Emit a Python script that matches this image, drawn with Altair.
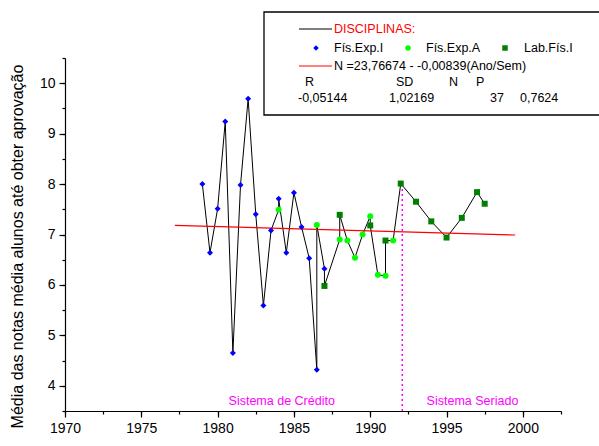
import altair as alt
import numpy as np
import pandas as pd

FONT = "Liberation Sans"

# ---- data ----
fis_exp_i_years = [1979, 1979.5, 1980, 1980.5, 1981, 1981.5, 1982, 1982.5, 1983, 1983.5,
                   1984, 1984.5, 1985, 1985.5, 1986, 1986.5, 1987]
fis_exp_i_values = [8.00, 6.64, 7.51, 9.24, 4.65, 7.98, 9.69, 7.40, 5.59, 7.08,
                    7.71, 6.64, 7.83, 7.15, 6.53, 4.32, 6.32]

fis_exp_a_years = [1984, 1986.5, 1988, 1988.5, 1989, 1989.5, 1990, 1990.5, 1991, 1991.5]
fis_exp_a_values = [7.49, 7.19, 6.90, 6.88, 6.54, 7.00, 7.36, 6.20, 6.18, 6.88]

lab_fis_i_years = [1987, 1988, 1990, 1991, 1992, 1993, 1994, 1995, 1996, 1997, 1997.5]
lab_fis_i_values = [5.98, 7.39, 7.18, 6.88, 8.01, 7.65, 7.26, 6.94, 7.33, 7.84, 7.61]

# order in which the black line visits the series (B = Fís.Exp.I, G = Fís.Exp.A, D = Lab.Fís.I)
line_sequence = "BBBBBBBBBB" "G" "BBBBBB" "G" "B" "D" "G" "D" "GGGG" "D" "GG" "D" "G" "DDDDDDD"

fit_years = [1977.2, 1999.5]
fit_values = [7.18, 6.99]

divider_year = [1992.1]
divider_low = [3.5]
divider_high = [8.0]

annot_text = ["Sistema de Crédito", "Sistema Seriado"]
annot_years = [1984.2, 1996.7]
annot_values = [3.70, 3.70]

series_names = ["Fís.Exp.I", "Fís.Exp.A", "Lab.Fís.I"]
series_colors = ["#0000FF", "#00FF00", "#008000"]
series_shapes = ["diamond", "circle", "square"]

x_major = [1970, 1975, 1980, 1985, 1990, 1995, 2000]
x_minor = [1970, 1972.5, 1975, 1977.5, 1980, 1982.5, 1985, 1987.5, 1990, 1992.5,
           1995, 1997.5, 2000, 2002.5]
y_major = [4, 5, 6, 7, 8, 9, 10]
y_minor = [3.5, 4, 4.5, 5, 5.5, 6, 6.5, 7, 7.5, 8, 8.5, 9, 9.5, 10, 10.5]

# ---- build tables ----
series_data = {
    "B": (series_names[0], fis_exp_i_years, fis_exp_i_values),
    "G": (series_names[1], fis_exp_a_years, fis_exp_a_values),
    "D": (series_names[2], lab_fis_i_years, lab_fis_i_values),
}
counters = {"B": 0, "G": 0, "D": 0}
rows = []
for seq, code in enumerate(line_sequence):
    name, ys, vs = series_data[code]
    i = counters[code]
    counters[code] += 1
    rows.append({"year": ys[i], "value": vs[i], "series": name, "seq": seq})
points = pd.DataFrame(rows)

fit_df = pd.DataFrame({"year": fit_years, "value": fit_values})
div_df = pd.DataFrame({"year": divider_year, "lo": divider_low, "hi": divider_high})
annot_df = pd.DataFrame({"year": annot_years, "value": annot_values, "text": annot_text})
one = pd.DataFrame({"k": [0]})

x_scale = alt.Scale(domain=[1970, 2002.5], nice=False, zero=False)
y_scale = alt.Scale(domain=[3.5, 10.5], nice=False, zero=False)

common = dict(grid=False, domainColor="black", tickColor="black", domainWidth=1.2, tickWidth=1.2)

x_axis_major = alt.Axis(
    values=x_major, format="d", title=None, orient="bottom", tickSize=6,
    labelOverlap=False, labelFlush=False, labelPadding=4,
    labelFont=FONT, labelFontSize=14, labelColor="black", **common
)
x_axis_minor = alt.Axis(
    values=x_minor, title=None, orient="bottom", tickSize=3, labels=False, domain=False,
    grid=False, tickColor="black", tickWidth=1.2
)
y_axis_major = alt.Axis(
    values=y_major, format="d", orient="left", tickSize=6,
    title="Média das notas média alunos até obter aprovação",
    labelOverlap=False, labelFlush=False, labelPadding=4,
    labelFont=FONT, labelFontSize=14, labelColor="black",
    titleFont=FONT, titleFontSize=16, titleFontWeight="normal", titleColor="black",
    titleX=-48, titleY=188, titleAngle=270, titleAlign="center", titleBaseline="middle",
    **common
)
y_axis_minor = alt.Axis(
    values=y_minor, title=None, orient="left", tickSize=3, labels=False, domain=False,
    grid=False, tickColor="black", tickWidth=1.2
)


def xq(field, axis=None):
    if axis is None:
        return alt.X(field, scale=x_scale, axis=None)
    return alt.X(field, scale=x_scale, axis=axis)


def yq(field, axis=None):
    if axis is None:
        return alt.Y(field, scale=y_scale, axis=None)
    return alt.Y(field, scale=y_scale, axis=axis)


line = alt.Chart(points).mark_line(color="black", strokeWidth=1).encode(
    x=xq("year:Q", x_axis_major), y=yq("value:Q", y_axis_major), order="seq:Q"
)
pts = alt.Chart(points).mark_point(filled=True, opacity=1, size=36).encode(
    x=xq("year:Q"),
    y=yq("value:Q"),
    color=alt.Color("series:N", scale=alt.Scale(domain=series_names, range=series_colors), legend=None),
    shape=alt.Shape("series:N", scale=alt.Scale(domain=series_names, range=series_shapes), legend=None),
)
fit = alt.Chart(fit_df).mark_line(color="#FF0000", strokeWidth=1.2).encode(
    x=xq("year:Q", x_axis_minor), y=yq("value:Q", y_axis_minor)
)
divider = alt.Chart(div_df).mark_rule(color="#FF00FF", strokeDash=[2, 3], strokeWidth=1.5).encode(
    x=xq("year:Q"), y=yq("lo:Q"), y2="hi:Q"
)
annots = alt.Chart(annot_df).mark_text(color="#FF00FF", font=FONT, fontSize=12.5).encode(
    x=xq("year:Q"), y=yq("value:Q"), text="text:N"
)

# ---- hand-made legend box ----
box = alt.Chart(one).mark_rect(fill="white", stroke="black", strokeWidth=1.3).encode(
    x=alt.value(199), x2=alt.value(560), y=alt.value(-46), y2=alt.value(57)
)


def label(txt, x, y, color="black"):
    return alt.Chart(one).mark_text(
        text=txt, align="left", baseline="middle", font=FONT, fontSize=12.5, color=color
    ).encode(x=alt.value(x), y=alt.value(y))


def sample_line(color, y):
    return alt.Chart(one).mark_rule(color=color, strokeWidth=1.2).encode(
        x=alt.value(234), x2=alt.value(267), y=alt.value(y)
    )


def sample_symbol(shape, color, x, y):
    return alt.Chart(one).mark_point(shape=shape, color=color, filled=True, opacity=1, size=30).encode(
        x=alt.value(x), y=alt.value(y)
    )


legend_layers = [
    box,
    sample_line("black", -29),
    label("DISCIPLINAS:", 269, -29, "#FF0000"),
    sample_symbol(series_shapes[0], series_colors[0], 251, -10),
    label(series_names[0], 269, -10),
    sample_symbol(series_shapes[1], series_colors[1], 343, -10),
    label(series_names[1], 361, -10),
    sample_symbol(series_shapes[2], series_colors[2], 440, -10),
    label(series_names[2], 459, -10),
    sample_line("#FF0000", 8),
    label("N =23,76674 - -0,00839(Ano/Sem)", 269, 8),
    label("R", 240, 24),
    label("SD", 331, 24),
    label("N", 384, 24),
    label("P", 411, 24),
    label("-0,05144", 233, 40),
    label("1,02169", 324, 40),
    label("37", 425, 40),
    label("0,7624", 455, 40),
]

chart = alt.layer(line, fit, divider, pts, annots, *legend_layers).resolve_axis(
    x="independent", y="independent"
).properties(
    width=496, height=353,
    padding={"left": 65, "top": 58, "right": 38, "bottom": 35},
    autosize=alt.AutoSizeParams(type="none"),
    background="white",
).configure_view(strokeWidth=0)

chart.save("out.html", embed_options={"renderer": "svg", "actions": False})
